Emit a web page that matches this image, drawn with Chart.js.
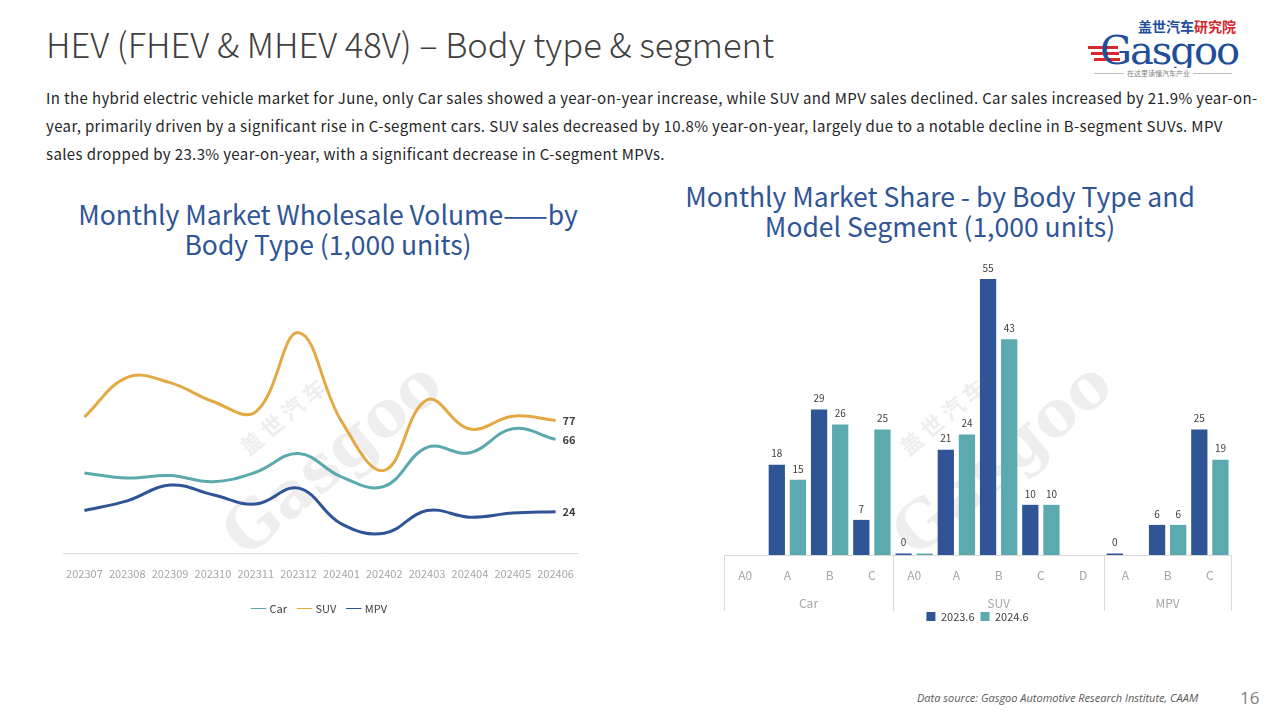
<!DOCTYPE html>
<html>
<head>
<meta charset="utf-8">
<script src="https://cdn.jsdelivr.net/npm/chart.js@4.4.0/dist/chart.umd.min.js"></script>
<style>
    body { margin: 0; width: 1280px; height: 720px; background: #fff; position: relative; overflow: hidden;
           font-family: "Noto Sans CJK SC", "Noto Sans", sans-serif; }
    .abs { position: absolute; }
    #heading { left: 46px; top: 18px; font-size: 34.5px; font-weight: 300; color: #404040; white-space: nowrap; }
    #intro { left: 46px; top: 84px; font-size: 15px; line-height: 28px; color: #262626; white-space: nowrap; letter-spacing: 0.37px; }
    .ctitle { font-size: 26.5px; line-height: 30px; color: #2f5597; text-align: center; white-space: nowrap; }
    #t1 { left: 28px; top: 199px; width: 600px; }
    #t2 { left: 640px; top: 181px; width: 600px; }
    .wm { color: #eeeeee; font-weight: bold; white-space: nowrap; transform: rotate(-40deg); transform-origin: center; }
    #footer { left: 917px; top: 690px; font-size: 11px; font-style: italic; color: #595959; font-family: "Open Sans", sans-serif; }
    #page { left: 1240px; top: 686px; font-size: 17px; color: #7f7f7f; font-family: "Open Sans", sans-serif; }
    #logo { left: 1086px; top: 14px; width: 154px; height: 64px; }
    canvas { position: absolute; }
</style>
</head>
<body>
<div id="heading" class="abs">HEV (FHEV &amp; MHEV 48V) – Body type &amp; segment</div>
<div id="intro" class="abs">In the hybrid electric vehicle market for June, only Car sales showed a year-on-year increase, while SUV and MPV sales declined. Car sales increased by 21.9% year-on-<br>year, primarily driven by a significant rise in C-segment cars. SUV sales decreased by 10.8% year-on-year, largely due to a notable decline in B-segment SUVs. MPV<br>sales dropped by 23.3% year-on-year, with a significant decrease in C-segment MPVs.</div>

<div id="logo" class="abs">
    <div class="abs" style="left:52px;top:2px;font-size:14px;font-weight:bold;color:#1f4e9a;white-space:nowrap">盖世汽车<span style="color:#d7262c">研究院</span></div>
    <div class="abs" style="left:2px;top:32px;width:30px;height:3px;background:#d7262c"></div>
    <div class="abs" style="left:5px;top:38px;width:28px;height:3px;background:#d7262c"></div>
    <div class="abs" style="left:8px;top:44px;width:26px;height:3px;background:#d7262c"></div>
    <div class="abs" style="left:14px;top:14px;font-size:40px;line-height:44px;color:#1f4e9a;font-family:'DejaVu Serif',serif;letter-spacing:-2px">Gasgoo</div>
    <div class="abs" style="left:8px;top:59px;width:138px;border-top:1px solid #bfbfbf"></div>
    <div class="abs" style="left:38px;top:54px;font-size:7px;color:#7f7f7f;background:#fff;padding:0 3px;white-space:nowrap">在这里读懂汽车产业</div>
</div>

<div class="abs wm" style="left:230px;top:400px;font-size:22px">盖 世 汽 车</div>
<div class="abs wm" style="left:200px;top:420px;font-size:64px;font-family:'DejaVu Serif',serif">Gasgoo</div>
<div class="abs wm" style="left:890px;top:400px;font-size:22px">盖 世 汽 车</div>
<div class="abs wm" style="left:870px;top:420px;font-size:64px;font-family:'DejaVu Serif',serif">Gasgoo</div>

<div id="t1" class="abs ctitle">Monthly Market Wholesale Volume——by<br>Body Type (1,000 units)</div>
<div id="t2" class="abs ctitle">Monthly Market Share - by Body Type and<br>Model Segment (1,000 units)</div>

<canvas id="lineChart" width="580" height="336" style="left:40px;top:290px"></canvas>
<canvas id="barChart" width="560" height="396" style="left:700px;top:240px"></canvas>

<div id="footer" class="abs">Data source: Gasgoo Automotive Research Institute, CAAM</div>
<div id="page" class="abs">16</div>

<script>
Chart.defaults.font.family = "'Noto Sans CJK SC', 'Noto Sans', sans-serif";

// Data grafik kiri (ribu unit)
const months = ["202307", "202308", "202309", "202310", "202311", "202312",
                "202401", "202402", "202403", "202404", "202405", "202406"];
const carVolume = [46.5, 43.6, 45, 41.4, 46.9, 57.8, 44.2, 38.7, 61.4, 58.2, 72.2, 66];
const suvVolume = [79, 102, 99, 88, 82, 128, 76.6, 48, 89, 72, 79.5, 77];
const mpvVolume = [24.7, 30.3, 39.5, 33.8, 28.4, 37.7, 16.9, 11.5, 24.7, 20.8, 23.2, 24];

// Data grafik kanan
const segments = ["A0", "A", "B", "C", "A0", "A", "B", "C", "D", "A", "B", "C"];
const bodyTypes = ["Car", "SUV", "MPV"];
const groupSizes = [4, 5, 3];
const sales2023 = [null, 18, 29, 7, 0.3, 21, 55, 10, null, 0.3, 6, 25];
const sales2024 = [null, 15, 26, 25, 0.3, 24, 43, 10, null, null, 6, 19];
const hiddenLabels = ["1-4"]; // label yang tidak ditampilkan (dataset-index)

const colorCar = "#5ba9ae";
const colorSuv = "#e3a944";
const colorMpv = "#2f5597";

// Label nilai terakhir di ujung garis
const lastValuePlugin = {
    id: "lastValue",
    afterDatasetsDraw(chart) {
        const ctx = chart.ctx;
        ctx.save();
        ctx.font = "bold 11px 'Noto Sans CJK SC', sans-serif";
        ctx.fillStyle = "#404040";
        ctx.textBaseline = "middle";
        chart.data.datasets.forEach((ds, i) => {
            const meta = chart.getDatasetMeta(i);
            const pt = meta.data[meta.data.length - 1];
            ctx.fillText(Math.round(ds.data[ds.data.length - 1]), pt.x + 7, pt.y);
        });
        ctx.restore();
    },
};

new Chart(document.getElementById("lineChart"), {
    type: "line",
    data: {
        labels: months,
        datasets: [
            { label: "Car", data: carVolume, borderColor: colorCar, backgroundColor: colorCar },
            { label: "SUV", data: suvVolume, borderColor: colorSuv, backgroundColor: colorSuv },
            { label: "MPV", data: mpvVolume, borderColor: colorMpv, backgroundColor: colorMpv },
        ],
    },
    options: {
        responsive: false,
        animation: false,
        layout: { padding: { left: 23, right: 43, top: 22, bottom: 2 } },
        elements: {
            line: { borderWidth: 3, tension: 0.4 },
            point: { radius: 0 },
        },
        scales: {
            x: {
                offset: true,
                grid: { display: false },
                border: { color: "#d9d9d9" },
                ticks: { color: "#a6a6a6", font: { size: 11 }, padding: 6, maxRotation: 0, autoSkip: false },
                afterFit: (scale) => { scale.height = 38; },
            },
            y: { display: false, min: 0, max: 140 },
        },
        plugins: {
            legend: {
                position: "bottom",
                labels: {
                    usePointStyle: true,
                    pointStyle: "line",
                    boxWidth: 26,
                    color: "#404040",
                    font: { size: 11 },
                    padding: 12,
                },
            },
            tooltip: { enabled: false },
        },
    },
    plugins: [lastValuePlugin],
});

// Label nilai di atas batang
const barLabelPlugin = {
    id: "barLabels",
    afterDatasetsDraw(chart) {
        const ctx = chart.ctx;
        ctx.save();
        ctx.font = "10px 'Noto Sans CJK SC', sans-serif";
        ctx.fillStyle = "#404040";
        ctx.textAlign = "center";
        ctx.textBaseline = "bottom";
        chart.data.datasets.forEach((ds, i) => {
            chart.getDatasetMeta(i).data.forEach((bar, j) => {
                const v = ds.data[j];
                if (v === null || hiddenLabels.includes(i + "-" + j)) return;
                ctx.fillText(Math.round(v), bar.x, bar.y - 6);
            });
        });
        ctx.restore();
    },
};

// Label kelompok (Car / SUV / MPV) dan garis pemisah
const groupAxisPlugin = {
    id: "groupAxis",
    afterDraw(chart) {
        const ctx = chart.ctx;
        const xs = chart.scales.x;
        const half = (xs.getPixelForValue(1) - xs.getPixelForValue(0)) / 2;
        const top = chart.chartArea.bottom;
        ctx.save();
        ctx.strokeStyle = "#d9d9d9";
        ctx.lineWidth = 1;
        ctx.fillStyle = "#a6a6a6";
        ctx.font = "12px 'Noto Sans CJK SC', sans-serif";
        ctx.textAlign = "center";
        ctx.textBaseline = "middle";
        let start = 0;
        groupSizes.forEach((n, g) => {
            const x0 = xs.getPixelForValue(start) - half;
            const x1 = xs.getPixelForValue(start + n - 1) + half;
            [x0, x1].forEach((x) => {
                ctx.beginPath();
                ctx.moveTo(Math.round(x) + 0.5, top);
                ctx.lineTo(Math.round(x) + 0.5, top + 56);
                ctx.stroke();
            });
            ctx.fillText(bodyTypes[g], (x0 + x1) / 2, top + 48);
            start += n;
        });
        ctx.restore();
    },
};

new Chart(document.getElementById("barChart"), {
    type: "bar",
    data: {
        labels: segments,
        datasets: [
            { label: "2023.6", data: sales2023, backgroundColor: "#2f5597" },
            { label: "2024.6", data: sales2024, backgroundColor: "#5baab0" },
        ],
    },
    options: {
        responsive: false,
        animation: false,
        layout: { padding: { left: 24, right: 29, top: 14, bottom: 4 } },
        datasets: { bar: { categoryPercentage: 1.0, barPercentage: 0.77 } },
        scales: {
            x: {
                grid: { display: false },
                border: { color: "#d9d9d9" },
                ticks: { color: "#a6a6a6", font: { size: 12 }, padding: 5, maxRotation: 0, autoSkip: false },
                afterFit: (scale) => { scale.height = 50; },
            },
            y: { display: false, min: 0, max: 60 },
        },
        plugins: {
            legend: {
                position: "bottom",
                labels: { boxWidth: 9, boxHeight: 9, color: "#404040", font: { size: 11 }, padding: 6 },
            },
            tooltip: { enabled: false },
        },
    },
    plugins: [barLabelPlugin, groupAxisPlugin],
});
</script>
</body>
</html>
